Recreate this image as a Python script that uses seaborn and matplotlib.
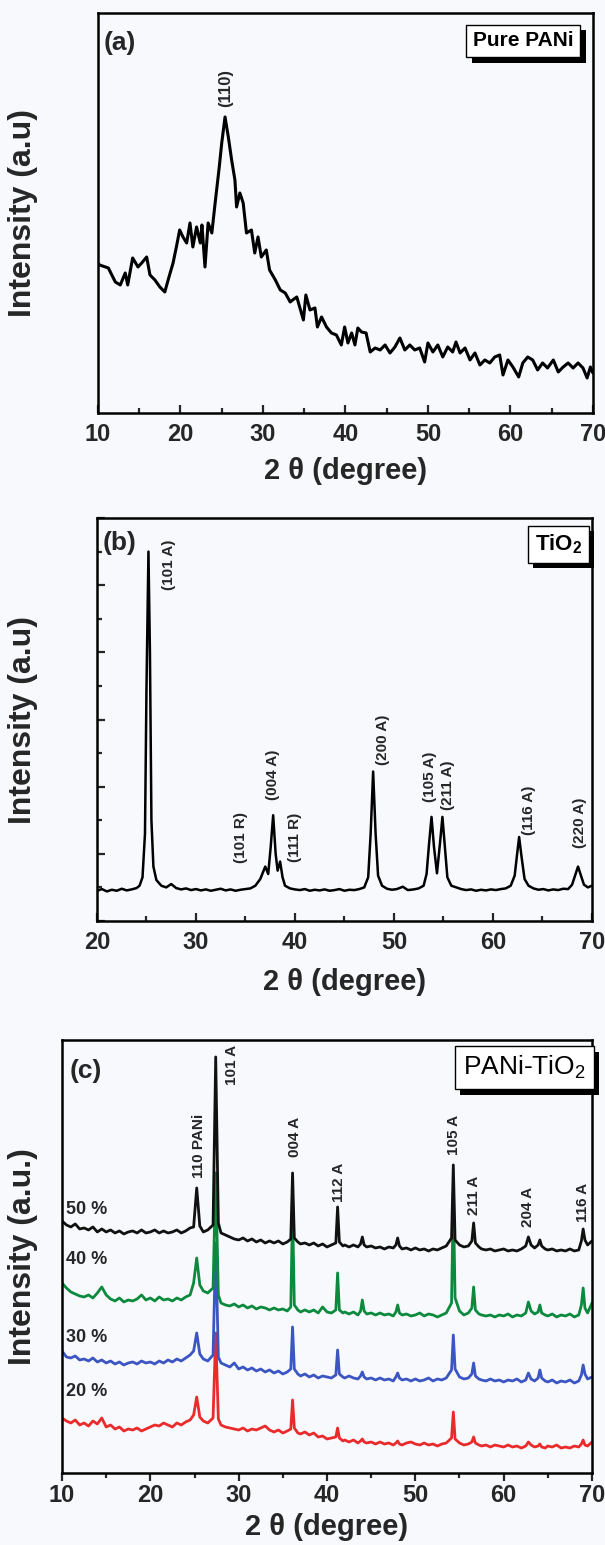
import pandas as pd
import seaborn as sns
import matplotlib.pyplot as plt
from matplotlib import patheffects
from matplotlib.ticker import MultipleLocator

# ---------------- data ----------------
# (a) pure PANi
pani_2theta = [10.0, 10.2, 11.25, 12.1, 12.7, 13.3, 13.6, 14.2, 14.85, 15.3, 15.9, 16.3, 16.9, 17.5,
               18.1, 18.5, 19.1, 19.5, 19.9, 20.3, 20.75, 21.15, 21.5, 21.95, 22.4, 22.6, 22.97,
               23.35, 23.8, 24.2, 24.7, 25.0, 25.4, 25.8, 26.2, 26.6, 26.8, 27.2, 27.6, 28.0, 28.6,
               29.0, 29.4, 29.8, 30.4, 30.8, 31.5, 32.1, 32.7, 33.3, 33.6, 34.1, 34.9, 35.2, 35.7,
               36.3, 36.6, 37.1, 37.7, 38.3, 38.9, 39.5, 39.9, 40.3, 40.75, 41.15, 41.5, 41.95,
               42.5, 43.0, 43.6, 44.2, 44.8, 45.4, 46.0, 46.6, 47.2, 47.8, 48.4, 49.0, 49.6, 50.0,
               50.6, 51.2, 51.8, 52.4, 53.0, 53.4, 53.9, 54.5, 55.1, 55.7, 56.3, 56.9, 57.5, 58.1,
               58.7, 59.1, 59.7, 60.3, 61.0, 61.5, 62.1, 62.7, 63.3, 63.9, 64.5, 65.2, 65.8, 66.4,
               67.0, 67.6, 68.2, 68.8, 69.3, 69.7, 70.0]
pani_int = [150, 148, 145, 131, 128, 140, 128, 155, 146, 150, 156, 138, 133, 126,
            121, 133, 150, 166, 183, 176, 170, 190, 166, 186, 170, 188, 146,
            190, 180, 210, 246, 270, 296, 276, 253, 233, 206, 220, 210, 180, 183,
            160, 176, 156, 163, 143, 133, 123, 120, 111, 113, 116, 93, 118, 103,
            105, 86, 96, 86, 80, 78, 68, 86, 70, 80, 68, 85, 81,
            80, 61, 65, 63, 68, 60, 66, 75, 63, 68, 63, 65, 51, 70,
            61, 68, 56, 66, 61, 71, 60, 65, 53, 60, 48, 53, 50, 56,
            58, 38, 53, 46, 36, 50, 56, 53, 43, 50, 45, 53, 41, 46,
            50, 45, 50, 45, 35, 46, 40]

# (b) TiO2
tio2_2theta = [20.0, 20.5, 21.0, 21.5, 22.0, 22.5, 23.0, 23.5, 24.0, 24.3, 24.6, 24.85, 25.0, 25.2,
               25.35, 25.5, 25.7, 26.0, 26.5, 27.0, 27.5, 28.0, 28.5, 29.0, 29.5, 30.0, 30.5, 31.0,
               31.5, 32.0, 32.5, 33.0, 33.5, 34.0, 34.5, 35.0, 35.5, 36.0, 36.5, 37.0, 37.3, 37.55,
               37.8, 38.05, 38.25, 38.5, 38.75, 39.0, 39.5, 40.0, 40.5, 41.0, 41.5, 42.0, 42.5,
               43.0, 43.5, 44.0, 44.5, 45.0, 45.5, 46.0, 46.5, 47.0, 47.4, 47.65, 47.9, 48.15,
               48.4, 48.8, 49.3, 49.8, 50.3, 50.9, 51.4, 52.0, 52.5, 53.0, 53.3, 53.55, 53.8,
               54.05, 54.35, 54.65, 54.9, 55.15, 55.4, 55.8, 56.3, 56.8, 57.3, 57.8, 58.3, 58.8,
               59.3, 59.8, 60.3, 60.8, 61.3, 61.8, 62.2, 62.45, 62.65, 62.9, 63.2, 63.6, 64.1,
               64.6, 65.1, 65.6, 66.1, 66.6, 67.1, 67.6, 68.0, 68.3, 68.6, 68.9, 69.2, 69.6, 70.0]
tio2_int = [0.90, 0.95, 0.88, 0.93, 0.90, 0.96, 0.91, 0.94, 0.98, 1.05, 1.30, 2.60, 6.90, 11.0,
            8.00, 3.00, 1.62, 1.22, 1.05, 1.00, 1.10, 0.98, 0.94, 0.97, 0.92, 0.95, 0.91, 0.94,
            0.90, 0.93, 0.96, 0.91, 0.94, 0.90, 0.93, 0.95, 0.97, 1.05, 1.25, 1.62, 1.40, 2.20,
            3.15, 2.00, 1.50, 1.77, 1.30, 1.05, 0.97, 0.94, 0.92, 0.95, 0.90, 0.93, 0.91,
            0.94, 0.90, 0.92, 0.95, 0.90, 0.93, 0.92, 0.95, 1.00, 1.30, 2.60, 4.45, 2.60,
            1.35, 1.05, 0.96, 0.93, 0.95, 1.02, 0.92, 0.94, 0.97, 1.05, 1.40, 2.30, 3.10,
            2.20, 1.42, 2.30, 3.10, 2.20, 1.30, 1.05, 1.00, 0.95, 0.92, 0.94, 0.90, 0.93,
            0.91, 0.94, 0.92, 0.95, 0.97, 1.05, 1.35, 2.00, 2.50, 1.90, 1.25, 1.05, 0.97,
            0.93, 0.95, 0.91, 0.94, 0.92, 0.96, 0.95, 1.08, 1.35, 1.62, 1.35, 1.08, 1.00, 1.05]

# (c) PANi-TiO2 composites, shared 2theta grid
comp_2theta = [10.0, 10.5, 11.0, 11.5, 12.0, 12.5, 13.0, 13.5, 14.0, 14.5,
               15.0, 15.5, 16.0, 16.5, 17.0, 17.5, 18.0, 18.5, 19.0, 19.5,
               20.0, 20.5, 21.0, 21.5, 22.0, 22.5, 23.0, 23.5, 24.0, 24.5,
               24.9, 25.25, 25.6, 26.0, 26.5, 27.1, 27.4, 27.7, 28.0, 28.5,
               29.0, 29.5, 30.0, 30.5, 31.0, 31.5, 32.0, 32.5, 33.0, 33.5,
               34.0, 34.5, 35.0, 35.5, 35.9, 36.1, 36.3, 36.7, 37.0, 37.5,
               38.0, 38.5, 39.0, 39.5, 40.0, 40.5, 41.0, 41.2, 41.4, 41.8,
               42.0, 42.5, 43.0, 43.5, 43.8, 44.0, 44.2, 44.5, 45.0, 45.5,
               46.0, 46.5, 47.0, 47.5, 47.8, 48.0, 48.2, 48.5, 49.0, 49.5,
               50.0, 50.5, 51.0, 51.5, 52.0, 52.5, 53.0, 53.5, 54.1, 54.3,
               54.5, 55.0, 55.5, 56.0, 56.4, 56.6, 56.8, 57.2, 57.5, 58.0,
               58.5, 59.0, 59.5, 60.0, 60.5, 61.0, 61.5, 62.0, 62.5, 62.8,
               63.1, 63.5, 63.9, 64.1, 64.3, 64.7, 65.0, 65.5, 66.0, 66.5,
               67.0, 67.5, 68.0, 68.5, 68.8, 69.0, 69.2, 69.5, 70.0]
comp_50 = [252, 248, 246, 249, 244, 245, 243, 246, 241, 244,
           241, 243, 240, 242, 239, 241, 242, 240, 243, 240,
           241, 243, 240, 242, 240, 241, 243, 240, 242, 245,
           246, 285, 247, 241, 243, 248, 416, 250, 240, 238,
           236, 234, 233, 235, 232, 234, 231, 233, 230, 232,
           230, 232, 229, 231, 234, 300, 235, 231, 229, 230,
           228, 230, 227, 229, 226, 228, 230, 266, 231, 227,
           228, 226, 228, 226, 229, 236, 228, 226, 227, 225,
           226, 224, 226, 225, 228, 235, 227, 224, 225, 223,
           225, 223, 224, 222, 224, 223, 225, 227, 235, 308,
           233, 228, 226, 227, 232, 250, 230, 226, 224, 223,
           224, 222, 223, 224, 222, 223, 222, 224, 227, 236,
           228, 225, 228, 233, 227, 224, 223, 224, 222, 223,
           222, 224, 222, 223, 232, 244, 233, 228, 232]
comp_40 = [190, 185, 181, 179, 177, 176, 178, 175, 180, 186,
           178, 174, 172, 175, 171, 173, 172, 174, 178, 173,
           175, 172, 176, 173, 174, 172, 175, 173, 176, 178,
           190, 215, 188, 182, 180, 185, 300, 178, 170, 168,
           167, 169, 166, 168, 165, 167, 164, 166, 165, 163,
           165, 163, 164, 162, 166, 265, 168, 163, 161, 163,
           161, 163, 160, 166, 161, 160, 163, 200, 163, 160,
           161, 159, 161, 158, 162, 173, 162, 159, 160, 158,
           160, 158, 159, 157, 161, 168, 160, 158, 159, 157,
           158, 160, 157, 159, 158, 156, 158, 160, 170, 280,
           175, 162, 158, 160, 165, 186, 163, 159, 158, 157,
           158, 156, 158, 157, 159, 156, 158, 157, 160, 171,
           162, 159, 161, 168, 160, 158, 157, 159, 156, 158,
           157, 159, 156, 158, 168, 185, 165, 160, 170]
comp_30 = [122, 116, 115, 117, 113, 114, 112, 115, 111, 113,
           110, 112, 109, 111, 108, 110, 111, 109, 112, 110,
           111, 109, 112, 110, 113, 111, 114, 112, 115, 118,
           122, 140, 119, 114, 112, 118, 230, 116, 110, 108,
           106, 110, 104, 106, 103, 105, 102, 104, 101, 103,
           100, 102, 99, 101, 104, 146, 104, 99, 97, 99,
           96, 98, 95, 97, 96, 95, 98, 123, 99, 96,
           95, 97, 95, 94, 97, 101, 96, 94, 95, 93,
           95, 93, 94, 92, 96, 100, 95, 93, 94, 92,
           94, 92, 93, 95, 92, 94, 93, 95, 103, 138,
           104, 96, 94, 95, 99, 110, 97, 94, 93, 92,
           94, 92, 93, 91, 93, 92, 94, 91, 93, 100,
           94, 92, 95, 103, 95, 92, 91, 93, 90, 92,
           91, 93, 90, 92, 98, 108, 99, 94, 96]
comp_20 = [55, 52, 50, 53, 48, 50, 47, 52, 49, 55,
           46, 48, 44, 46, 42, 44, 43, 45, 42, 44,
           46, 48, 47, 50, 48, 46, 50, 48, 51, 53,
           58, 76, 56, 52, 50, 55, 140, 54, 48, 46,
           45, 44, 43, 45, 42, 44, 43, 45, 47, 43,
           41, 43, 40, 42, 44, 73, 45, 40, 39, 41,
           38, 40, 36, 37, 34, 35, 36, 45, 35, 32,
           33, 31, 33, 30, 32, 34, 31, 30, 31, 29,
           31, 29, 30, 28, 30, 32, 29, 28, 30, 31,
           29, 28, 30, 28, 29, 27, 29, 30, 35, 61,
           34, 30, 28, 29, 31, 36, 30, 28, 27, 28,
           26, 28, 27, 26, 28, 26, 27, 25, 27, 31,
           28, 26, 27, 29, 26, 25, 27, 26, 28, 25,
           26, 25, 27, 26, 29, 33, 28, 27, 31]
comp_samples = ['20 %', '30 %', '40 %', '50 %']

pani_peak_text = ['(110)']
pani_peak_2theta = [25.5]
tio2_peak_text = ['(101 A)', '(101 R)', '(004 A)', '(111 R)', '(200 A)', '(105 A)', '(211 A)',
                  '(116 A)', '(220 A)']
tio2_peak_2theta = [27.3, 34.6, 37.8, 40.0, 48.9, 53.6, 55.5, 63.6, 68.8]
comp_peak_text = ['110 PANi', '101 A', '004 A', '112 A', '105 A', '211 A', '204 A', '116 A']
comp_peak_2theta = [25.5, 29.2, 36.4, 41.4, 54.4, 56.6, 62.7, 68.95]

# ---------------- style ----------------
sns.set_style('ticks')
plt.rcParams['font.family'] = ['Liberation Sans', 'DejaVu Sans']
plt.rcParams['mathtext.fontset'] = 'custom'
plt.rcParams['mathtext.rm'] = 'Liberation Sans'
plt.rcParams['mathtext.bf'] = 'Liberation Sans:bold'

bg = '#f8f9fc'
colors = {'20 %': '#ea2b2b', '30 %': '#3b55c2', '40 %': '#0b8a3e', '50 %': '#111111'}

fig = plt.figure(figsize=(6.05, 15.45), dpi=100, facecolor=bg)
ax_a = fig.add_axes([0.162, 0.7327, 0.818, 0.2589])
ax_b = fig.add_axes([0.1603, 0.4039, 0.818, 0.2608])
ax_c = fig.add_axes([0.1025, 0.0466, 0.876, 0.2803])


def frame(ax, xmin, xmax, tick_dir, pad):
    ax.set_facecolor(bg)
    for sp in ax.spines.values():
        sp.set_linewidth(1.8)
        sp.set_color('black')
    ax.set_xlim(xmin, xmax)
    ticks = list(range(xmin, xmax + 1, 10))
    ax.set_xticks(ticks)
    ax.set_xticklabels([str(t) for t in ticks], fontsize=17, fontweight='bold')
    ax.xaxis.set_minor_locator(MultipleLocator(5))
    ax.tick_params(axis='x', which='major', direction=tick_dir, length=6, width=1.6, pad=pad)
    ax.tick_params(axis='x', which='minor', direction=tick_dir, length=3.5, width=1.6)
    ax.tick_params(axis='x', top=False, which='both')
    ax.set_xlabel('2 θ (degree)', fontsize=21, fontweight='bold')


def boxed(ax, x, y, s, size, weight, pad):
    t = ax.text(x, y, s, transform=ax.transAxes, ha='center', va='center', fontsize=size,
                fontweight=weight, color='black',
                bbox=dict(boxstyle=f'square,pad={pad}', fc='white', ec='black', lw=1))
    t.get_bbox_patch().set_path_effects([
        patheffects.SimplePatchShadow(offset=(4, -4), shadow_rgbFace='black', alpha=1.0),
        patheffects.Normal()])


# ---------------- (a) ----------------
sns.lineplot(x=pani_2theta, y=pani_int, ax=ax_a, color='black', lw=2.2,
             estimator=None, sort=False)
frame(ax_a, 10, 70, 'in', 7)
ax_a.set_ylim(0, 400)
ax_a.tick_params(axis='y', left=False, right=False, labelleft=False)
ax_a.set_ylabel('Intensity (a.u)', fontsize=23, fontweight='bold')
ax_a.yaxis.set_label_coords(-0.121, 0.5)
ax_a.xaxis.labelpad = 8
for s, x in zip(pani_peak_text, pani_peak_2theta):
    ax_a.text(x, 306, s, rotation=90, ha='center', va='bottom', fontsize=12, fontweight='bold')
ax_a.text(0.012, 0.955, '(a)', transform=ax_a.transAxes, ha='left', va='top',
          fontsize=19, fontweight='bold')
boxed(ax_a, 0.859, 0.93, 'Pure PANi', 15, 'bold', 0.32)

# ---------------- (b) ----------------
sns.lineplot(x=tio2_2theta, y=tio2_int, ax=ax_b, color='black', lw=1.8,
             estimator=None, sort=False)
frame(ax_b, 20, 70, 'in', 7)
ax_b.set_ylim(0, 12)
ax_b.yaxis.set_major_locator(MultipleLocator(2))
ax_b.yaxis.set_minor_locator(MultipleLocator(1))
ax_b.tick_params(axis='y', which='major', direction='in', length=6, width=1.6,
                 labelleft=False, right=False)
ax_b.tick_params(axis='y', which='minor', direction='in', length=3.5, width=1.6, right=False)
ax_b.set_ylabel('Intensity (a.u)', fontsize=23, fontweight='bold')
ax_b.yaxis.set_label_coords(-0.119, 0.5)
ax_b.xaxis.labelpad = 10
tio2_label_y = [9.86, 1.72, 3.6, 1.77, 4.65, 3.55, 3.3, 2.56, 2.17]
for s, x, y in zip(tio2_peak_text, tio2_peak_2theta, tio2_label_y):
    ax_b.text(x, y, s, rotation=90, ha='center', va='bottom', fontsize=11, fontweight='bold')
ax_b.text(0.012, 0.968, '(b)', transform=ax_b.transAxes, ha='left', va='top',
          fontsize=19, fontweight='bold')
boxed(ax_b, 0.932, 0.935, r'TiO$_\mathbf{2}$', 16, 'bold', 0.3)

# ---------------- (c) ----------------
comp = pd.DataFrame({
    '2theta': comp_2theta * 4,
    'intensity': comp_20 + comp_30 + comp_40 + comp_50,
    'sample': [s for s in comp_samples for _ in comp_2theta],
})
sns.lineplot(data=comp, x='2theta', y='intensity', hue='sample', hue_order=comp_samples,
             palette=colors, lw=2.0, estimator=None, sort=False, legend=False, ax=ax_c)
frame(ax_c, 10, 70, 'out', 2)
ax_c.set_ylim(0, 433)
ax_c.tick_params(axis='y', left=False, right=False, labelleft=False)
ax_c.set_ylabel('Intensity (a.u.)', fontsize=23, fontweight='bold')
ax_c.yaxis.set_label_coords(-0.045, 0.5)
ax_c.xaxis.labelpad = 4
comp_label_y = [295, 388, 316, 271, 318, 258, 246, 251]
for s, x, y in zip(comp_peak_text, comp_peak_2theta, comp_label_y):
    ax_c.text(x, y, s, rotation=90, ha='center', va='bottom', fontsize=11, fontweight='bold')
sample_label_y = [81, 135, 213, 263]
for s, y in zip(comp_samples, sample_label_y):
    ax_c.text(10.4, y, s, ha='left', va='center', fontsize=13, fontweight='bold')
ax_c.text(0.015, 0.955, '(c)', transform=ax_c.transAxes, ha='left', va='top',
          fontsize=19, fontweight='bold')
boxed(ax_c, 0.872, 0.936, r'PANi-TiO$_\mathrm{2}$', 19, 'normal', 0.3)

fig.savefig('out.png', dpi=100, facecolor=fig.get_facecolor())
